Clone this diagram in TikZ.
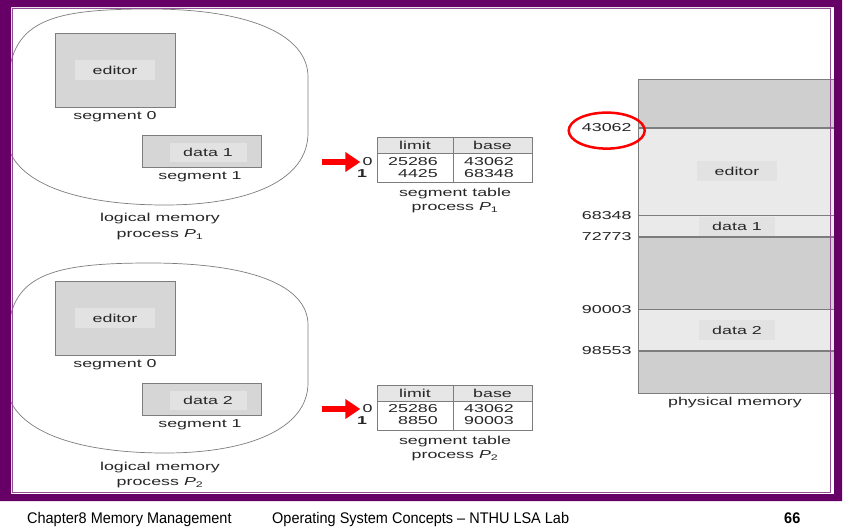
\documentclass[tikz,border=0pt]{standalone}
\usepackage{fontspec}
\usepackage{tikz}
\usetikzlibrary{arrows.meta}
\setmainfont{Liberation Sans}
\newfontfamily\figfont{Liberation Sans}[FakeStretch=1.55]
\newfontfamily\footfont{Liberation Sans}[FakeStretch=0.94]
\definecolor{framec}{RGB}{102,0,102}
\definecolor{lineg}{RGB}{125,125,125}
\definecolor{segfill}{RGB}{214,214,214}
\definecolor{patchc}{RGB}{226,226,226}
\definecolor{headc}{RGB}{230,230,230}
\definecolor{freec}{RGB}{207,207,207}
\definecolor{usedc}{RGB}{234,234,234}

\begin{document}
\begin{tikzpicture}[x=1pt, y=-1pt,
    lbl/.style={font=\figfont\fontsize{11.5}{13}\selectfont, text=black!85, inner sep=0pt},
    patch/.style={lbl, fill=patchc, minimum width=80pt, minimum height=20pt},
    segbox/.style={draw=lineg, fill=segfill, line width=0.6pt},
    blob/.style={draw=lineg, line width=0.7pt},
    hcell/.style={lbl, draw=lineg, fill=headc, line width=0.6pt, minimum height=16pt},
    bcell/.style={draw=lineg, fill=white, line width=0.6pt, minimum height=29pt, inner sep=0pt},
    num/.style={lbl, anchor=east},
    free/.style={draw=lineg, fill=freec, line width=0.6pt, minimum width=198pt, inner sep=0pt, anchor=north},
    used/.style={free, fill=usedc},
    ptr/.style={draw=red, line width=5.5pt, -{Triangle[length=15pt,width=19pt]}},
    ring/.style={draw=red, line width=2.5pt},
    foot/.style={font=\footfont\fontsize{15.4}{17}\selectfont, anchor=base west, inner sep=0pt}]

\fill[white] (0,0) rectangle (853,530);
\useasboundingbox (0,0) rectangle (853,530);

\draw[blob] (8,147) -- (8,90) .. controls (8,20) and (50,9) .. (150,9)
    .. controls (250,9) and (308,35) .. (308,77) -- (308,133)
    .. controls (308,180) and (250,205) .. (165,205)
    .. controls (80,205) and (20,185) .. (8,147);
\node[segbox, minimum width=120pt, minimum height=74pt] (edA) at (115,70) {};
\node[patch] at (edA) {editor};
\node[lbl] at (115,117) {segment 0};
\node[segbox, minimum width=119pt, minimum height=32pt] (daA) at (201.5,151) {};
\node[patch, minimum width=77pt, minimum height=19pt] at (208,152) {data 1};
\node[lbl] at (200,177) {segment 1};
\node[lbl] at (160,219) {logical memory};
\node[lbl] at (160,235) {process {\itshape P}\textsubscript{1}};

\draw[blob] (8,395) -- (8,340) .. controls (8,275) and (50,263) .. (150,263)
    .. controls (250,263) and (308,285) .. (308,325) -- (308,383)
    .. controls (308,428) and (250,453) .. (165,453)
    .. controls (80,453) and (20,433) .. (8,395);
\node[segbox, minimum width=120pt, minimum height=74pt] (edB) at (115,318) {};
\node[patch] at (edB) {editor};
\node[lbl] at (115,365) {segment 0};
\node[segbox, minimum width=119pt, minimum height=32pt] (daB) at (201.5,399) {};
\node[patch, minimum width=77pt, minimum height=19pt] at (208,400) {data 2};
\node[lbl] at (200,425) {segment 1};
\node[lbl] at (160,468) {logical memory};
\node[lbl] at (160,483) {process {\itshape P}\textsubscript{2}};

\node[hcell, minimum width=76pt] (limA) at (415,145) {limit};
\node[hcell, minimum width=79pt] (basA) at (492.5,145) {base};
\node[bcell, minimum width=76pt, anchor=north] (colA) at (limA.south) {};
\node[bcell, minimum width=79pt, anchor=north] (colB) at (basA.south) {};
\node[num] at (438,162) {25286};
\node[num] at (514,162) {43062};
\node[num] at (438,174) {4425};
\node[num] at (514,174) {68348};
\node[lbl] (rA0) at (367.5,162) {0};
\node[lbl] (rA1) at (362,174) {\bfseries 1};
\coordinate (tailA) at (322,162);
\draw[ptr] (tailA) -- ([xshift=-2pt]rA0.west);
\node[lbl] at (455,194) {segment table};
\node[lbl] at (455,208) {process {\itshape P}\textsubscript{1}};

\node[hcell, minimum width=76pt] (limB) at (415,393) {limit};
\node[hcell, minimum width=79pt] (basB) at (492.5,393) {base};
\node[bcell, minimum width=76pt, anchor=north] (colC) at (limB.south) {};
\node[bcell, minimum width=79pt, anchor=north] (colD) at (basB.south) {};
\node[num] at (438,409) {25286};
\node[num] at (514,409) {43062};
\node[num] at (438,421) {8850};
\node[num] at (514,421) {90003};
\node[lbl] (rB0) at (367.5,409) {0};
\node[lbl] (rB1) at (362,421) {\bfseries 1};
\coordinate (tailB) at (322,409);
\draw[ptr] (tailB) -- ([xshift=-2pt]rB0.west);
\node[lbl] at (455,442) {segment table};
\node[lbl] at (455,456) {process {\itshape P}\textsubscript{2}};

\node[free, minimum height=48pt] (pm0) at (737,79) {};
\node[used, minimum height=87pt] (pm1) at (pm0.south) {};
\node[used, minimum height=21pt] (pm2) at (pm1.south) {};
\node[free, minimum height=72pt] (pm3) at (pm2.south) {};
\node[used, minimum height=41pt] (pm4) at (pm3.south) {};
\node[free, minimum height=42pt] (pm5) at (pm4.south) {};
\node[patch] at (pm1) {editor};
\node[patch, minimum width=76pt, minimum height=19pt] at (pm2) {data 1};
\node[patch, minimum width=76pt] at (pm4) {data 2};
\node[num] (a0) at ([xshift=-6pt]pm1.north west) {43062};
\node[num] (a1) at ([xshift=-6pt]pm2.north west) {68348};
\node[num] (a2) at ([xshift=-6pt]pm3.north west) {72773};
\node[num] (a3) at ([xshift=-6pt]pm4.north west) {90003};
\node[num] (a4) at ([xshift=-6pt]pm5.north west) {98553};
\draw[ring] ([yshift=-3pt]a0.center) ellipse [x radius=38pt, y radius=18pt];
\node[lbl] at (735,403) {physical memory};

\fill[framec, even odd rule] (0,0) rectangle (842,501) (11,7) rectangle (834,494);
\draw[framec!70, line width=1pt] (12.5,8.5) rectangle (830.5,492);

\node[foot] (ch) at (27,523) {Chapter8 Memory Management};
\node[foot] (os) at (272,523) {Operating System Concepts – NTHU LSA Lab};
\node[foot] (pg) at (784,523) {\bfseries 66};
\end{tikzpicture}
\end{document}
